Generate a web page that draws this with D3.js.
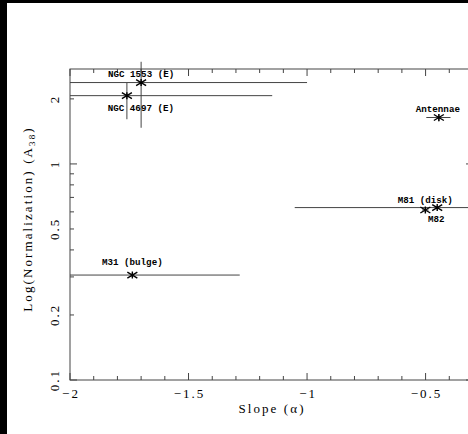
<!DOCTYPE html>
<html>
<head>
<meta charset="utf-8">
<script src="https://cdn.jsdelivr.net/npm/d3@7"></script>
<style>
  html, body { margin: 0; padding: 0; background: #000; }
  svg { display: block; }
  .tick-label { font-family: "Liberation Serif", serif; font-size: 13px; letter-spacing: 2px; fill: #000; }
  .title { font-family: "Liberation Serif", serif; font-size: 13px; letter-spacing: 2.1px; fill: #000; }
  .gal { font-family: "Liberation Mono", monospace; font-weight: bold; font-size: 9.2px; fill: #000; }
</style>
</head>
<body>
<div id="chart"></div>
<script>
// galaxies: best fit slope and normalization with their error ranges
const names = ["NGC 1553 (E)", "NGC 4697 (E)", "Antennae", "M81 (disk)", "M82", "M31 (bulge)"];
const slope = [-1.70, -1.76, -0.444, -0.451, -0.501, -1.737];
const slopeLo = [-2.4, -2.37, -0.497, -1.052, -0.515, -2.3];
const slopeHi = [-1.0, -1.147, -0.395, 0.2, -0.487, -1.284];
const norm = [2.38, 2.07, 1.64, 0.628, 0.612, 0.306];
const normLo = [1.47, 1.61, 1.57, 0.615, 0.60, 0.300];
const normHi = [2.97, 2.37, 1.70, 0.640, 0.624, 0.312];

const xTicks = [-2, -1.5, -1, -0.5];
const yTicks = [0.1, 0.2, 0.5, 1, 2];

// where each name sits relative to its marker
const labelShift = [[0, -5.7], [14, 15], [-1, -5.7], [-12, -4.7], [11, 11.7], [0, -10.5]];

const W = 468, H = 434;
const margin = { top: 69, left: 70, right: -5, bottom: 54 };

const svg = d3.select("#chart").append("svg").attr("width", W).attr("height", H);

// black edge on top/left like the scanned page
svg.append("rect").attr("x", 0).attr("y", 0).attr("width", W).attr("height", H).attr("fill", "#000");
svg.append("rect").attr("x", 7).attr("y", 3).attr("width", W - 7).attr("height", H - 3).attr("fill", "#fff");

const x = d3.scaleLinear().domain([-2, -0.3]).range([margin.left, W - margin.right]);
const y = d3.scaleLog().domain([0.1, 2.75]).range([H - margin.bottom, margin.top]);

const x0 = x.range()[0], x1 = x.range()[1];
const y0 = y.range()[0], y1 = y.range()[1];

// horizontal bars get cut at the frame
svg.append("clipPath").attr("id", "clip")
  .append("rect").attr("x", x0).attr("y", 0).attr("width", x1 - x0).attr("height", H);

const frameColor = "#444";

// frame
svg.append("rect")
  .attr("x", x0).attr("y", y1).attr("width", x1 - x0).attr("height", y0 - y1)
  .attr("fill", "none").attr("stroke", frameColor).attr("stroke-width", 1);

// x ticks every 0.1, larger ones every 0.5
const xMinor = d3.range(-2, -0.29, 0.1).map(d => Math.round(d * 10) / 10);
const ticksG = svg.append("g").attr("stroke", frameColor).attr("stroke-width", 1);
xMinor.forEach(function (d) {
  const big = Math.abs(d * 2 - Math.round(d * 2)) < 1e-6;
  const len = big ? 7 : 4;
  ticksG.append("line").attr("x1", x(d)).attr("x2", x(d)).attr("y1", y0).attr("y2", y0 - len);
  ticksG.append("line").attr("x1", x(d)).attr("x2", x(d)).attr("y1", y1).attr("y2", y1 + len);
});

// y ticks on log axis
const yMinor = [];
[0.1, 1].forEach(function (dec) {
  for (let k = 1; k <= 9; k++) {
    const v = dec * k;
    if (v <= 2.75) yMinor.push(v);
  }
});
yMinor.forEach(function (d) {
  const big = Math.abs(Math.log10(d) - Math.round(Math.log10(d))) < 1e-6;
  const len = big ? 7 : 4;
  ticksG.append("line").attr("x1", x0).attr("x2", x0 + len).attr("y1", y(d)).attr("y2", y(d));
  ticksG.append("line").attr("x1", x1).attr("x2", x1 - len).attr("y1", y(d)).attr("y2", y(d));
});

// tick labels
svg.selectAll(".xl").data(xTicks).enter().append("text")
  .attr("class", "tick-label")
  .attr("x", d => x(d) + 1)
  .attr("y", 398)
  .attr("text-anchor", "middle")
  .text(d => d3.format("")(d).replace("-", "\u2212"));

svg.selectAll(".yl").data(yTicks).enter().append("text")
  .attr("class", "tick-label")
  .attr("transform", d => "translate(59," + y(d) + ") rotate(-90)")
  .attr("text-anchor", "middle")
  .text(d => d);

// axis titles
svg.append("text").attr("class", "title")
  .attr("x", 272).attr("y", 413)
  .attr("text-anchor", "middle")
  .text("Slope (\u03b1)");

const yt = svg.append("text").attr("class", "title")
  .attr("transform", "translate(32,219) rotate(-90)")
  .attr("text-anchor", "middle");
yt.append("tspan").text("Log(Normalization) (A");
yt.append("tspan").attr("font-size", "9px").attr("dy", 3).text("38");
yt.append("tspan").attr("dy", -3).text(")");

// error bars and markers
const idx = d3.range(names.length);

svg.append("g").attr("clip-path", "url(#clip)")
  .selectAll(".ex").data(idx).enter().append("line")
  .attr("x1", i => x(slopeLo[i])).attr("x2", i => x(slopeHi[i]))
  .attr("y1", i => y(norm[i])).attr("y2", i => y(norm[i]))
  .attr("stroke", frameColor).attr("stroke-width", 1);

svg.selectAll(".ey").data(idx).enter().append("line")
  .attr("x1", i => x(slope[i])).attr("x2", i => x(slope[i]))
  .attr("y1", i => y(normLo[i])).attr("y2", i => y(normHi[i]))
  .attr("stroke", frameColor).attr("stroke-width", 1);

// wide x with a short upright stroke, like the old plot package star
const star = "M-5,-3L5,3M-5,3L5,-3M0,-3.5L0,3.5";
svg.selectAll(".pt").data(idx).enter().append("path")
  .attr("d", star)
  .attr("transform", i => "translate(" + x(slope[i]) + "," + y(norm[i]) + ")")
  .attr("fill", "none").attr("stroke", "#000").attr("stroke-width", 1.4);

svg.selectAll(".gal").data(idx).enter().append("text")
  .attr("class", "gal")
  .attr("x", i => x(slope[i]) + labelShift[i][0])
  .attr("y", i => y(norm[i]) + labelShift[i][1])
  .attr("text-anchor", "middle")
  .text(i => names[i]);
</script>
</body>
</html>
